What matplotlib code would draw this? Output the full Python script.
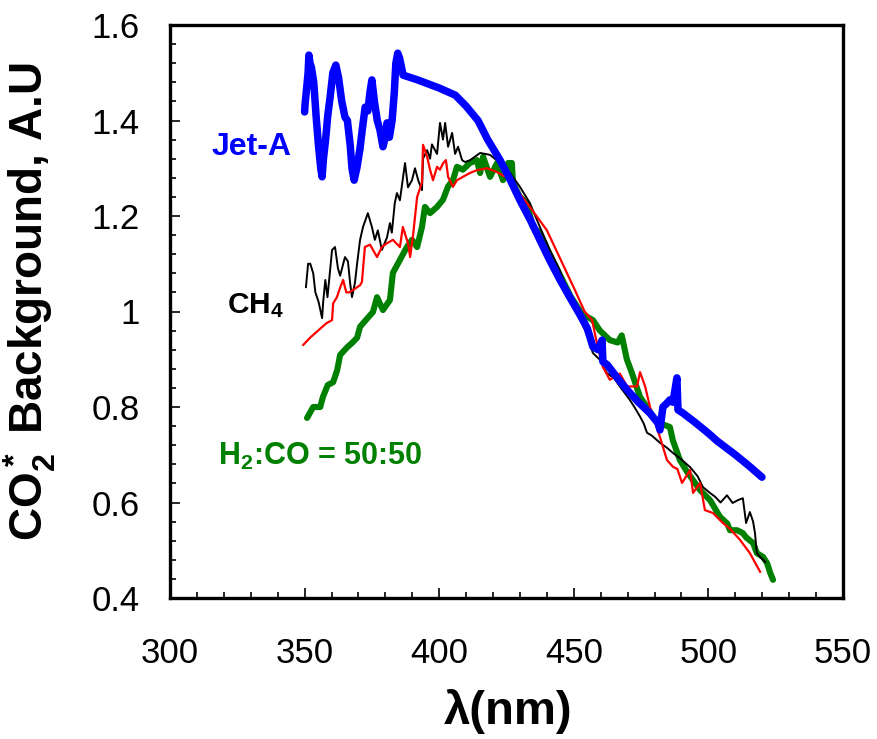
import matplotlib
matplotlib.use("Agg")
import matplotlib.pyplot as plt
from matplotlib.ticker import MultipleLocator, FixedLocator, FixedFormatter

plt.rcParams['font.family'] = ['Liberation Sans', 'DejaVu Sans']
plt.rcParams['mathtext.fontset'] = 'custom'
plt.rcParams['mathtext.rm'] = 'Liberation Sans:bold'
plt.rcParams['mathtext.it'] = 'Liberation Sans:bold'
plt.rcParams['mathtext.bf'] = 'Liberation Sans:bold'

# ---------------- data ----------------
jet_x = [350, 350.2, 350.8, 351.3, 351.6, 352.0, 352.5, 353.4, 354.3, 355.2, 356.0, 356.5, 357.0, 357.8,
         358.6, 359.5, 360.5, 361.6, 362.6, 363.8, 365.0, 365.9, 367.0, 367.6, 368.4, 369.4, 370.5, 371.4,
         372.5, 373.5, 374.3, 375.0, 376.0, 377.0, 378.0, 379.1, 380.2, 380.6, 381.5, 382.5, 383.3, 383.9,
         384.6, 385.3, 386.6, 392, 400, 406, 410, 414.4, 418, 422.6, 426, 430, 434, 437.4, 441, 444.9,
         448.5, 452.3, 455, 457.1, 459, 460.5, 460.8, 462.5, 466, 469.8, 474, 478.3, 481.3, 482.0, 483.1,
         484.6, 485.7, 486.8, 487.6, 488.3, 488.7, 490.6, 495, 500, 503.2, 510, 515, 519.9]
jet_y = [1.418, 1.436, 1.47, 1.50, 1.537, 1.52, 1.512, 1.48, 1.407, 1.345, 1.30, 1.282, 1.32, 1.36,
         1.41, 1.45, 1.50, 1.516, 1.49, 1.44, 1.407, 1.40, 1.345, 1.30, 1.275, 1.30, 1.338, 1.38,
         1.428, 1.42, 1.46, 1.485, 1.437, 1.40, 1.38, 1.345, 1.37, 1.395, 1.365, 1.40, 1.457, 1.52,
         1.541, 1.53, 1.495, 1.485, 1.468, 1.453, 1.43, 1.40, 1.36, 1.317, 1.28, 1.233, 1.19, 1.15, 1.108, 1.066,
         1.03, 0.993, 0.965, 0.926, 0.92, 0.94, 0.895, 0.888, 0.862, 0.836, 0.81, 0.787, 0.766, 0.752, 0.80,
         0.808, 0.815, 0.81, 0.836, 0.861, 0.794, 0.787, 0.768, 0.745, 0.729, 0.70, 0.677, 0.653]

ch4_x = [350.5, 351.3, 352.1, 353.2, 354.0, 355.2, 356.5, 356.9, 357.7, 358.5, 360.2, 361.3, 362.4, 363.2,
         365.0, 366.1, 366.9, 367.6, 368.7, 369.5, 370.6, 371.7, 373.5, 375.0, 376.1, 377.2, 378.7, 380.6,
         381.7, 382.4, 383.5, 384.3, 385.4, 387.3, 388.4, 389.9, 391.0, 392.2, 393.6, 394.0, 395.5, 396.6,
         397.3, 399.2, 400.3, 401.4, 402.2, 403.3, 404.8, 405.9, 407.0, 408.5, 409.6, 411.5, 415.2, 418.9,
         422.6, 426.3, 430, 433.7, 437.4, 441, 444.5, 448, 452.3, 455, 457.1, 459.5, 462.3, 465, 467.5,
         470.8, 472.5, 474.6, 476, 477.2, 479, 482, 484.5, 486.8, 490, 493.2, 496, 498, 500.6, 502.5, 504.5,
         506.9, 509, 511, 512.8, 514, 515.4, 516.6, 517.3, 518, 519.2, 521.2]
ch4_y = [1.051, 1.10, 1.10, 1.08, 1.04, 1.02, 0.986, 1.02, 1.066, 1.03, 1.129, 1.135, 1.09, 1.075,
         1.114, 1.105, 1.06, 1.03, 1.06, 1.10, 1.15, 1.177, 1.206, 1.177, 1.15, 1.17, 1.129, 1.155,
         1.185, 1.165, 1.227, 1.248, 1.233, 1.311, 1.26, 1.275, 1.30, 1.275, 1.254, 1.32, 1.338, 1.32,
         1.35, 1.33, 1.395, 1.36, 1.395, 1.345, 1.374, 1.33, 1.345, 1.317, 1.313, 1.317, 1.332, 1.328,
         1.311, 1.29, 1.261, 1.227, 1.177, 1.13, 1.09, 1.04, 0.985, 0.95, 0.913, 0.90, 0.871, 0.86, 0.84,
         0.815, 0.80, 0.78, 0.765, 0.746, 0.74, 0.725, 0.715, 0.704, 0.69, 0.674, 0.655, 0.632, 0.62, 0.612, 0.60,
         0.615, 0.599, 0.605, 0.609, 0.557, 0.58, 0.56, 0.536, 0.494, 0.486, 0.475]

red_x = [349.5, 352, 355, 358, 360.2, 360.6, 362, 363.2, 364.3, 365.5, 366.5, 368, 370.6, 371.3, 372.4,
         374.3, 376.9, 378.7, 380.6, 382.8, 385.4, 386.5, 388.4, 389.2, 390.3, 391.8, 393.6, 394.0, 395.5,
         396.6, 397.7, 399.2, 400.3, 401.4, 402.5, 403.3, 405.1, 406.6, 408.8, 411.4, 414.0, 417.8, 421.5,
         425.2, 428.9, 433.7, 440, 445, 450, 454, 456.8, 458.6, 460.8, 463.4, 467.1, 469.8, 473.5, 474.6,
         476.5, 478.3, 482, 484.6, 486.8, 488.5, 490.2, 493.2, 494.3, 496.9, 498.7, 501.7, 505.4, 508,
         511.7, 515.4, 519.2]
red_y = [0.93, 0.945, 0.96, 0.975, 0.982, 1.017, 1.03, 1.05, 1.066, 1.04, 1.04, 1.045, 1.055, 1.062, 1.135,
         1.14, 1.114, 1.135, 1.143, 1.15, 1.135, 1.177, 1.143, 1.114, 1.16, 1.24, 1.27, 1.349, 1.324,
         1.297, 1.275, 1.303, 1.297, 1.31, 1.317, 1.282, 1.261, 1.275, 1.282, 1.29, 1.296, 1.30, 1.292,
         1.28, 1.254, 1.219, 1.17, 1.11, 1.05, 1.00, 0.982, 0.933, 0.884, 0.857, 0.87, 0.843, 0.843, 0.873,
         0.843, 0.80, 0.737, 0.689, 0.675, 0.67, 0.641, 0.668, 0.62, 0.641, 0.584, 0.578, 0.557, 0.545,
         0.522, 0.494, 0.455]

h2co_x = [350.9, 352, 353.2, 355.8, 356.8, 358.6, 360.6, 362.1, 363.2, 365.8, 367.6, 369.5, 370.6, 373.2,
          375.4, 376.9, 379.1, 381.7, 382.8, 385.4, 388, 389.9, 391.8, 393.6, 394.7, 396.6, 399.2, 401.4,
          403.3, 405.1, 406.6, 408.8, 411.4, 414, 415.2, 416.3, 418.9, 421.5, 423.7, 425.6, 427, 427.4, 430,
          432.6, 434.8, 437.4, 441, 445, 449, 453, 457.1, 459.7, 463.4, 466.3, 467.8, 469.7, 471.6, 474.6,
          477.2, 479.4, 482, 485.7, 486.8, 489.4, 492, 496.9, 500.6, 504.3, 507, 508, 510.6, 512.8, 514,
          516.6, 518, 520.3, 521.8, 523, 524]
h2co_y = [0.777, 0.788, 0.80, 0.80, 0.821, 0.846, 0.852, 0.877, 0.909, 0.925, 0.934, 0.945, 0.968, 0.985,
          0.999, 1.03, 1.003, 1.024, 1.081, 1.108, 1.135, 1.15, 1.135, 1.177, 1.219, 1.206, 1.219, 1.234,
          1.262, 1.275, 1.303, 1.297, 1.311, 1.317, 1.29, 1.324, 1.282, 1.311, 1.275, 1.311, 1.311, 1.269,
          1.24, 1.227, 1.177, 1.164, 1.12, 1.075, 1.03, 0.995, 0.982, 0.96, 0.94, 0.935, 0.95, 0.9, 0.871,
          0.821, 0.80, 0.779, 0.766, 0.758, 0.73, 0.689, 0.665, 0.626, 0.605, 0.57, 0.556, 0.542, 0.542,
          0.536, 0.527, 0.515, 0.494, 0.486, 0.473, 0.452, 0.438]

x_ticks = [300, 350, 400, 450, 500, 550]
x_labels = ['300', '350', '400', '450', '500', '550']
y_ticks = [0.4, 0.6, 0.8, 1.0, 1.2, 1.4, 1.6]
y_labels = ['0.4', '0.6', '0.8', '1', '1.2', '1.4', '1.6']

# ---------------- figure ----------------
fig = plt.figure(figsize=(8.77, 7.39), dpi=100)
ax = fig.add_axes([170/877, 1 - 598/739, (843-170)/877, (598-25)/739])

ax.plot(h2co_x, h2co_y, color='#008000', lw=4.4, solid_capstyle='round', solid_joinstyle='round', zorder=2)
ax.plot(ch4_x, ch4_y, color='black', lw=1.4, zorder=3)
ax.plot(red_x, red_y, color='#FF0000', lw=1.6, zorder=4)
ax.plot(jet_x, jet_y, color='#0000FF', lw=5.4, solid_capstyle='round', solid_joinstyle='round', zorder=5)

ax.set_xlim(300, 550)
ax.set_ylim(0.4, 1.6)
ax.xaxis.set_major_locator(FixedLocator(x_ticks))
ax.xaxis.set_major_formatter(FixedFormatter(x_labels))
ax.xaxis.set_minor_locator(MultipleLocator(10))
ax.yaxis.set_major_locator(FixedLocator(y_ticks))
ax.yaxis.set_major_formatter(FixedFormatter(y_labels))
ax.yaxis.set_minor_locator(MultipleLocator(0.04))

ax.tick_params(which='both', direction='in', top=False, right=False, width=1.2, colors='black')
ax.tick_params(which='major', length=7)
ax.tick_params(which='minor', length=4.5)
ax.tick_params(axis='x', which='major', labelsize=25, pad=28)
ax.tick_params(axis='y', which='major', labelsize=25, pad=22)
for s in ax.spines.values():
    s.set_linewidth(2.4)

fig.text(508/877, 1 - 712/739, 'λ(nm)', fontsize=34, fontweight='bold', ha='center', va='center')
fig.text(30/877, 1 - 302/739, r'CO$_2^*$ Background, A.U', fontsize=33, fontweight='bold',
         ha='center', va='center', rotation=90)

ax.text(315.5, 1.328, 'Jet-A', color='#0000FF', fontsize=23, fontweight='bold', ha='left', va='baseline')
ax.text(321, 0.997, r'CH$_4$', color='black', fontsize=21.5, fontweight='bold', ha='left', va='baseline')
ax.text(318, 0.679, r'H$_2$:CO = 50:50', color='#008000', fontsize=22, fontweight='bold',
        ha='left', va='baseline')

fig.savefig('out.png', dpi=100)
